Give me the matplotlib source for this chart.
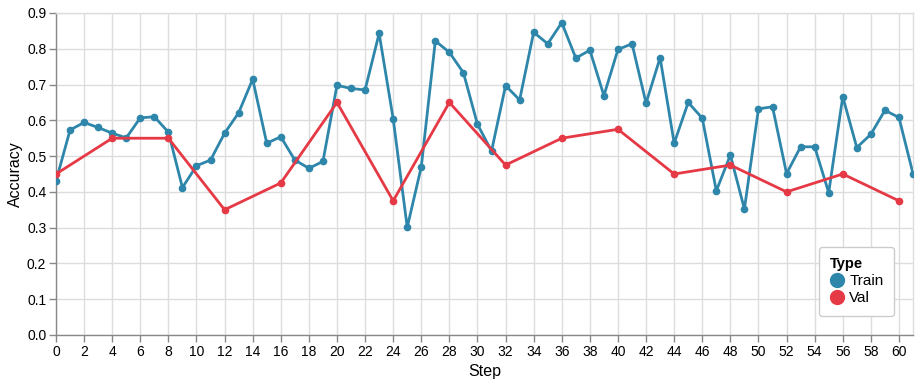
import matplotlib.pyplot as plt
from matplotlib.lines import Line2D

plt.rcParams['font.family'] = ['Liberation Sans', 'DejaVu Sans']

train_steps = list(range(62))
train_acc = [0.43, 0.573, 0.594, 0.580, 0.564, 0.551, 0.607, 0.610, 0.567, 0.412,
             0.473, 0.489, 0.564, 0.621, 0.715, 0.536, 0.554, 0.489, 0.466, 0.485,
             0.698, 0.689, 0.685, 0.843, 0.604, 0.301, 0.470, 0.822, 0.790, 0.733,
             0.589, 0.514, 0.697, 0.657, 0.846, 0.814, 0.873, 0.774, 0.796, 0.669,
             0.798, 0.814, 0.648, 0.775, 0.536, 0.650, 0.606, 0.403, 0.503, 0.352,
             0.632, 0.638, 0.451, 0.526, 0.526, 0.398, 0.666, 0.524, 0.561, 0.628,
             0.608, 0.451]

val_steps = [0, 4, 8, 12, 16, 20, 24, 28, 32, 36, 40, 44, 48, 52, 56, 60]
val_acc = [0.45, 0.55, 0.55, 0.35, 0.425, 0.65, 0.375, 0.65, 0.475, 0.55,
           0.575, 0.45, 0.475, 0.40, 0.45, 0.375]

x_ticks = list(range(0, 61, 2))
y_ticks = [0.0, 0.1, 0.2, 0.3, 0.4, 0.5, 0.6, 0.7, 0.8, 0.9]

blue = '#2e86ab'
red = '#e63946'

fig = plt.figure(figsize=(9.22, 3.84), dpi=100)
ax = fig.add_axes([56 / 922, 1 - 335 / 384, (913 - 56) / 922, (335 - 13) / 384])

ax.plot(train_steps, train_acc, color=blue, lw=2, marker='o', ms=4.5, zorder=3)
ax.plot(val_steps, val_acc, color=red, lw=2, marker='o', ms=4.5, zorder=4)

ax.set_xlim(0, 61)
ax.set_ylim(0, 0.9)
ax.set_xticks(x_ticks)
ax.set_yticks(y_ticks)
ax.set_yticklabels(['%.1f' % v for v in y_ticks])
ax.grid(True, color='#dddddd', lw=1)
ax.set_axisbelow(True)

for s in ['top', 'right']:
    ax.spines[s].set_color('#dddddd')
    ax.spines[s].set_linewidth(1)
for s in ['left', 'bottom']:
    ax.spines[s].set_color('#888888')
    ax.spines[s].set_linewidth(1)

ax.tick_params(axis='both', colors='#888888', length=5, width=1, labelsize=10,
               labelcolor='black', pad=2)

ax.set_xlabel('Step', fontsize=11.5, labelpad=4)
ax.set_ylabel('Accuracy', fontsize=11.5, labelpad=3)

handles = [Line2D([], [], color=blue, marker='o', ls='none', ms=10),
           Line2D([], [], color=red, marker='o', ls='none', ms=10)]
leg = ax.legend(handles, ['Train', 'Val'], title='Type', loc='lower right',
                bbox_to_anchor=(0.978, 0.059), borderaxespad=0,
                fontsize=11, title_fontsize=10.5,
                frameon=True, handletextpad=0.35, handlelength=0.9,
                borderpad=0.7, labelspacing=0.2, alignment='left', fancybox=True)
leg.get_title().set_fontweight('bold')
leg.get_frame().set_edgecolor('#cccccc')
leg.get_frame().set_linewidth(1)
leg.get_frame().set_alpha(1)

fig.savefig('out.png', dpi=100)
